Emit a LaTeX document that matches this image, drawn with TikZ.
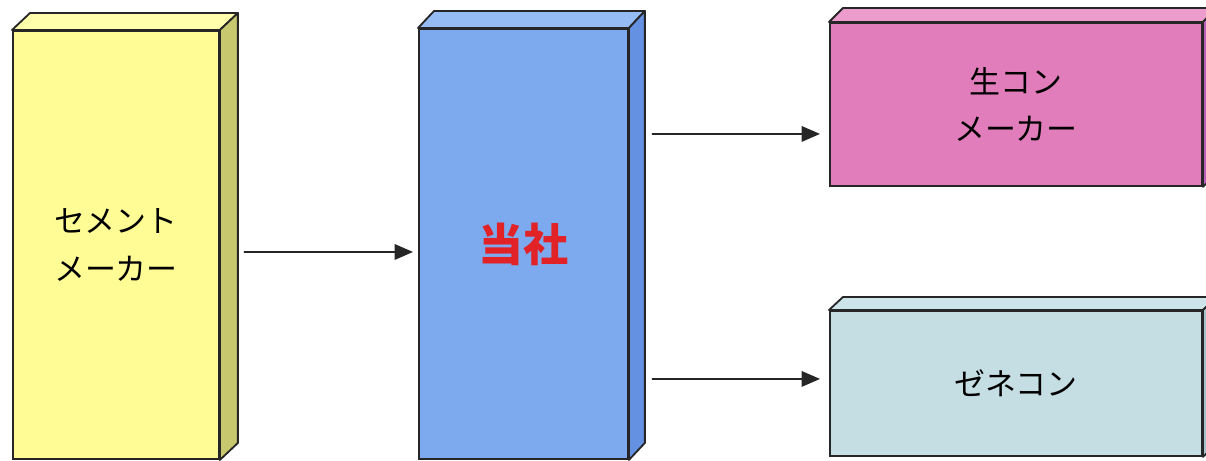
\documentclass[tikz,border=0pt]{standalone}
\usepackage{fontspec}
\newfontfamily\jp{Noto Sans CJK JP}
\usetikzlibrary{arrows.meta}

\definecolor{cemfront}{RGB}{255,252,150}
\definecolor{cemtop}{RGB}{255,254,170}
\definecolor{cemside}{RGB}{200,200,110}
\definecolor{tohfront}{RGB}{125,170,238}
\definecolor{tohtop}{RGB}{150,188,245}
\definecolor{tohside}{RGB}{100,145,225}
\definecolor{namafront}{RGB}{226,125,188}
\definecolor{namatop}{RGB}{236,155,205}
\definecolor{namaside}{RGB}{185,95,190}
\definecolor{genefront}{RGB}{196,222,228}
\definecolor{genetop}{RGB}{205,228,234}
\definecolor{geneside}{RGB}{165,195,205}
\definecolor{tohred}{RGB}{225,35,40}

\tikzset{
  slab/.style={draw=black!85, line width=1.3pt, anchor=north west, inner sep=0pt,
    align=center, font=\jp\fontsize{22}{34}\selectfont},
  face/.style={draw=black!85, line width=1.3pt, line join=round},
  arr/.style={-{Triangle[length=13pt,width=11pt]}, line width=1.2pt, black!85}
}

% top and side faces of a slab: node, top colour, side colour, depth
\newcommand{\slabfaces}[4]{
  \draw[face, fill=#2] (#1.north west) -- ++(#4) -- ([shift={(#4)}]#1.north east)
    -- (#1.north east) -- cycle;
  \draw[face, fill=#3] (#1.north east) -- ++(#4) -- ([shift={(#4)}]#1.south east)
    -- (#1.south east) -- cycle;
}

\begin{document}
\begin{tikzpicture}[x=0.025cm,y=-0.025cm]
  \useasboundingbox (0,0) rectangle (1206,461);

  % supplier, company, customers
  \node[slab, fill=cemfront, minimum width=5.15cm, minimum height=10.7cm]
    (cem) at (12,30) {セメント\\メーカー};
  \node[slab, fill=tohfront, minimum width=5.225cm, minimum height=10.75cm,
    font=\jp\bfseries\fontsize{32}{38}\selectfont, text=tohred]
    (toh) at (418,28) {当社};
  \node[slab, fill=namafront, minimum width=9.3cm, minimum height=4.075cm]
    (nama) at (829,22) {生コン\\メーカー};
  \node[slab, fill=genefront, minimum width=9.3cm, minimum height=3.625cm]
    (gene) at (829,310) {ゼネコン};

  \slabfaces{cem}{cemtop}{cemside}{18,-17}
  \slabfaces{toh}{tohtop}{tohside}{16,-17}
  \slabfaces{nama}{namatop}{namaside}{14,-14}
  \slabfaces{gene}{genetop}{geneside}{14,-13}

  % flow of goods
  \draw[arr] ([shift={(24,7)}]cem.east) -- ([shift={(-5,8)}]toh.west);
  \draw[arr] ([shift={(23,-110)}]toh.east) -- ([shift={(-9,29.5)}]nama.west);
  \draw[arr] ([shift={(23,135)}]toh.east) -- ([shift={(-9,-4.5)}]gene.west);
\end{tikzpicture}
\end{document}
